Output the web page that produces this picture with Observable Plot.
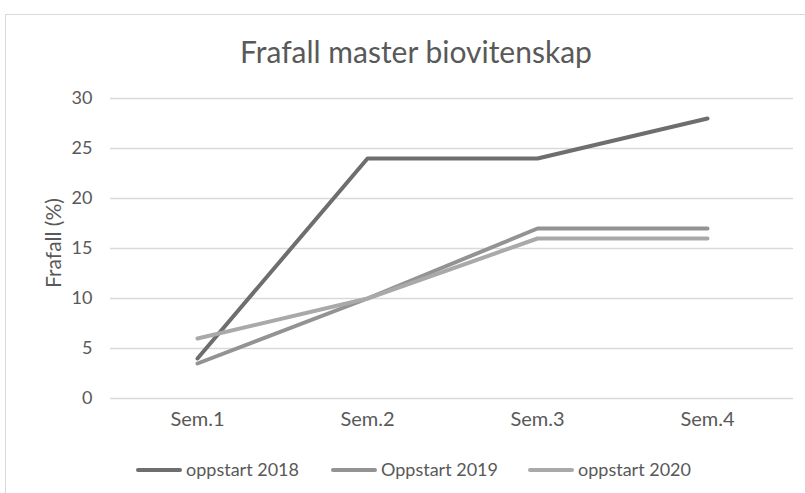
<!DOCTYPE html>
<html><head><meta charset="utf-8">
<script src="https://cdn.jsdelivr.net/npm/d3@7"></script>
<script src="https://cdn.jsdelivr.net/npm/@observablehq/plot@0.6"></script>
<style>
body{margin:0;background:#fff;}
#wrap{position:relative;width:805px;height:493px;overflow:hidden;font-family:Lato,sans-serif;color:#595959;}
#frame{position:absolute;left:5px;top:14px;width:830px;height:520px;border:1px solid #d9d9d9;box-sizing:border-box;}
#title{position:absolute;top:33px;left:0;width:832px;text-align:center;font-size:30px;line-height:36px;}
#ylab{position:absolute;left:52px;top:243px;transform:translate(-50%,-50%) rotate(-90deg);font-size:21px;white-space:nowrap;}
#chart{position:absolute;left:0;top:0;}
#legend{position:absolute;top:458px;left:0;height:22px;font-size:18px;line-height:22px;}
.item{position:absolute;top:0;white-space:nowrap;}
.sw{display:inline-block;width:46px;height:4px;border-radius:2px;vertical-align:middle;margin-right:4px;position:relative;top:-1px;}
</style></head>
<body>
<div id="wrap">
  <div id="frame"></div>
  <div id="chart"></div>
  <div id="title">Frafall master biovitenskap</div>
  <div id="ylab">Frafall (%)</div>
  <div id="legend"></div>
</div>
<script>
const semesters = ["Sem.1","Sem.2","Sem.3","Sem.4"];
const seriesNames = ["oppstart 2018","Oppstart 2019","oppstart 2020"];
const values2018 = [4, 24, 24, 28];
const values2019 = [3.5, 10, 17, 17];
const values2020 = [6, 10, 16, 16];
const yTicks = [0, 5, 10, 15, 20, 25, 30];
const colors = ["#6e6e6e", "#939393", "#a9a9a9"];

const allValues = [values2018, values2019, values2020];
const data = [];
seriesNames.forEach((s, i) => semesters.forEach((sem, j) => data.push({series: s, sem, value: allValues[i][j]})));

const chart = Plot.plot({
  width: 805, height: 493,
  marginLeft: 110, marginRight: 12, marginTop: 98, marginBottom: 95,
  style: {fontFamily: "Lato, sans-serif", color: "#595959", background: "transparent"},
  x: {type: "point", domain: semesters, padding: 0.5},
  y: {domain: [0, 30]},
  color: {domain: seriesNames, range: colors},
  marks: [
    Plot.gridY(yTicks, {stroke: "#d9d9d9", strokeOpacity: 1, strokeWidth: 1.3}),
    Plot.axisY(yTicks, {tickSize: 0, tickPadding: 18, fontSize: 18, label: null, fill: "#595959"}),
    Plot.axisX({tickSize: 0, tickPadding: 13, fontSize: 20, label: null, fill: "#595959"}),
    Plot.line(data, {x: "sem", y: "value", z: "series", stroke: "series", strokeWidth: 4, strokeLinecap: "round", strokeLinejoin: "round"})
  ]
});
document.getElementById("chart").appendChild(chart);

const legendX = [136, 331, 528];
const legend = document.getElementById("legend");
seriesNames.forEach((s, i) => {
  const d = document.createElement("div");
  d.className = "item";
  d.style.left = legendX[i] + "px";
  d.innerHTML = `<span class="sw" style="background:${colors[i]}"></span>${s}`;
  legend.appendChild(d);
});
</script>
</body></html>
